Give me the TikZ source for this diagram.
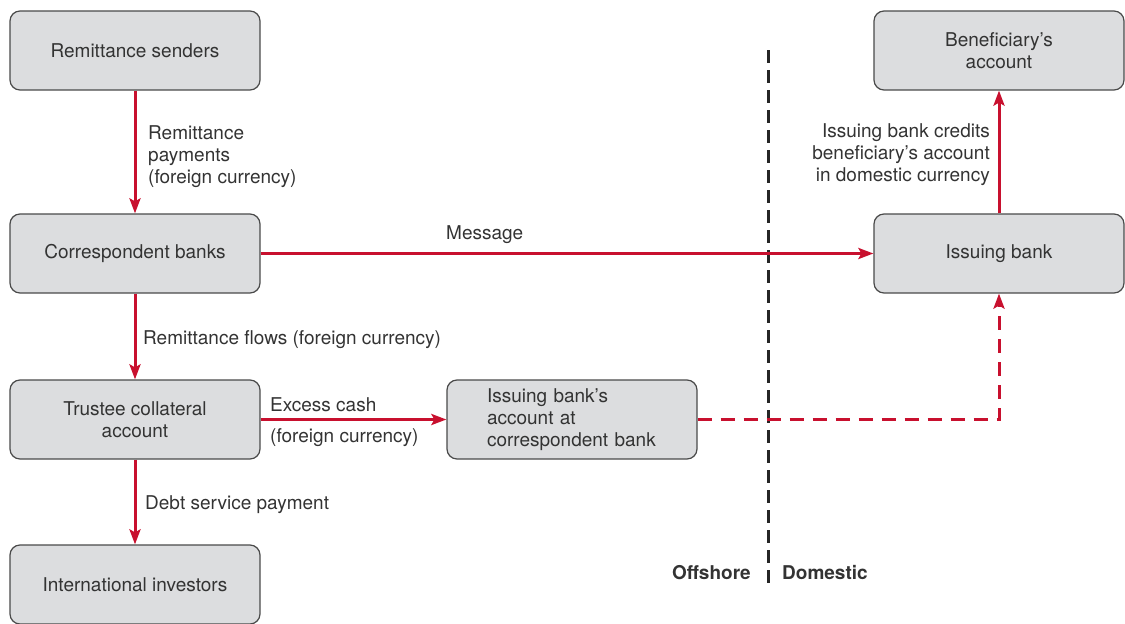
\documentclass[tikz,border=0pt]{standalone}
\usepackage{fontspec}
\setmainfont{TeX Gyre Heros}
\usetikzlibrary{arrows.meta}
\definecolor{flowred}{HTML}{C8102E}
\definecolor{boxgray}{HTML}{DCDDDF}
\definecolor{boxline}{HTML}{4A4A4A}
\definecolor{txt}{HTML}{333333}
\tikzset{
  box/.style={rectangle, rounded corners=10pt, draw=boxline, line width=1.2pt, fill=boxgray,
    minimum width=250pt, minimum height=79pt, inner sep=0pt, text=txt, align=center,
    font=\fontsize{19}{22}\selectfont},
  lbl/.style={text=txt, inner sep=0pt, font=\fontsize{19}{22}\selectfont},
  flow/.style={draw=flowred, line width=3pt, -{Stealth[length=15pt,width=11pt,inset=3pt]}},
  dflow/.style={draw=flowred, line width=3pt, dash pattern=on 14pt off 9pt,
    -{Stealth[length=15pt,width=11pt,inset=3pt]}},
  divider/.style={draw=black!85, line width=3pt, dash pattern=on 13pt off 7pt}
}
\begin{document}
\begin{tikzpicture}[x=1pt,y=-1pt]
\useasboundingbox (0,0) rectangle (1125,624);
% divider
\coordinate (dtop) at (768,50);
\coordinate (dbot) at (768,584);
\draw[divider] (dtop) -- (dbot);
\node[lbl, anchor=base east, font=\fontsize{19}{22}\selectfont\bfseries] (off) at (751,579) {Offshore};
\node[lbl, anchor=base west, font=\fontsize{19}{22}\selectfont\bfseries] (dom) at (782,579) {Domestic};
% boxes
\node[box] (send) at (135,50.5) {Remittance senders};
\node[box] (corr) at (135,253.5) {Correspondent banks};
\node[box] (trust) at (135,419.5) {Trustee collateral\\account};
\node[box] (inv) at (135,584.5) {International investors};
\node[box, align=left, text width=170pt] (acct) at (572,419.5) {Issuing bank's\\account at\\correspondent bank};
\node[box] (benef) at (999,50.5) {Beneficiary's\\account};
\node[box] (issue) at (999,253.5) {Issuing bank};
% flows
\draw[flow] (send.south) -- (corr.north);
\node[lbl, anchor=north west, align=left] (l1) at (148,125) {Remittance\\payments\\(foreign currency)};
\draw[flow] (corr.south) -- (trust.north);
\node[lbl, anchor=base west] (l2) at (143,344) {Remittance flows (foreign currency)};
\draw[flow] (trust.south) -- (inv.north);
\node[lbl, anchor=base west] (l3) at (145,509) {Debt service payment};
\draw[flow] (trust.east) -- (acct.west);
\node[lbl, anchor=base west] (l4) at (270,411) {Excess cash};
\node[lbl, anchor=base west] (l5) at (270,442) {(foreign currency)};
\draw[flow] (corr.east) -- (issue.west);
\node[lbl, anchor=base west] (l6) at (446,239) {Message};
\draw[flow] (issue.north) -- (benef.south);
\node[lbl, anchor=north east, align=right] (l7) at (990,123) {Issuing bank credits\\beneficiary's account\\in domestic currency};
\coordinate (bend) at (999,419.5);
\draw[dflow] (acct.east) -- (bend) -- (issue.south);
\end{tikzpicture}
\end{document}
